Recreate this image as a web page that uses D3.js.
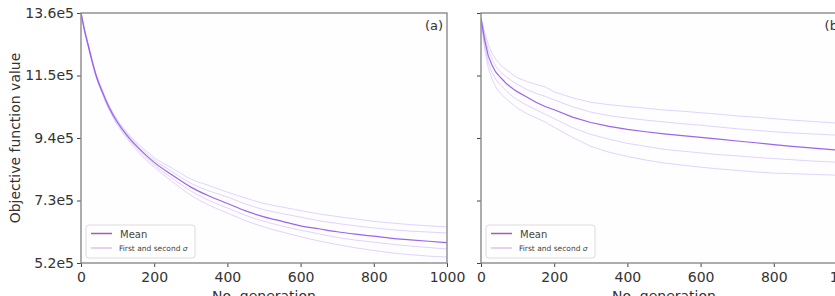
<!DOCTYPE html>
<html>
<head>
<meta charset="utf-8">
<script src="https://cdn.jsdelivr.net/npm/d3@7"></script>
<style>
  body { margin: 0; background: #fff; }
  svg { display: block; font-family: "DejaVu Sans", sans-serif; }
</style>
</head>
<body>
<div id="chart"></div>
<script>
// generations
const gens = [0, 10, 20, 30, 40, 50, 60, 70, 80, 90, 100, 125, 150, 175, 200, 250, 300, 350, 400, 450, 500, 550, 600, 650, 700, 750, 800, 850, 900, 950, 1000];

// panel (a), values in 1e5
const aMean   = [13.6, 13.0, 12.5, 12.0, 11.55, 11.2, 10.9, 10.6, 10.35, 10.12, 9.92, 9.5, 9.15, 8.85, 8.58, 8.15, 7.75, 7.45, 7.2, 6.95, 6.75, 6.6, 6.45, 6.35, 6.25, 6.17, 6.1, 6.03, 5.98, 5.93, 5.88];
const aUp2    = [13.62, 13.05, 12.55, 12.05, 11.6, 11.26, 10.96, 10.67, 10.42, 10.2, 10.0, 9.6, 9.27, 9.0, 8.74, 8.38, 8.02, 7.8, 7.58, 7.38, 7.2, 7.08, 6.96, 6.85, 6.76, 6.68, 6.6, 6.54, 6.49, 6.45, 6.41];
const aUp1    = [13.61, 13.03, 12.53, 12.03, 11.58, 11.23, 10.93, 10.64, 10.39, 10.16, 9.96, 9.55, 9.21, 8.92, 8.66, 8.26, 7.88, 7.62, 7.42, 7.18, 6.99, 6.86, 6.74, 6.62, 6.53, 6.45, 6.38, 6.32, 6.27, 6.24, 6.21];
const aLow1   = [13.59, 12.97, 12.47, 11.97, 11.52, 11.17, 10.87, 10.56, 10.31, 10.08, 9.88, 9.45, 9.09, 8.78, 8.5, 8.04, 7.62, 7.3, 7.05, 6.8, 6.6, 6.44, 6.3, 6.18, 6.06, 5.97, 5.9, 5.83, 5.77, 5.72, 5.67];
const aLow2   = [13.58, 12.95, 12.44, 11.94, 11.49, 11.13, 10.83, 10.52, 10.27, 10.03, 9.83, 9.39, 9.02, 8.7, 8.42, 7.93, 7.48, 7.14, 6.88, 6.62, 6.41, 6.24, 6.08, 5.94, 5.82, 5.71, 5.62, 5.54, 5.48, 5.43, 5.4];

// panel (b)
const bMean   = [13.4, 12.7, 12.15, 11.85, 11.62, 11.48, 11.35, 11.22, 11.12, 11.03, 10.95, 10.78, 10.6, 10.46, 10.35, 10.1, 9.92, 9.79, 9.69, 9.61, 9.54, 9.48, 9.42, 9.36, 9.3, 9.24, 9.18, 9.12, 9.07, 9.02, 8.97];
const bUp2    = [13.45, 12.95, 12.55, 12.25, 12.05, 11.9, 11.78, 11.68, 11.6, 11.5, 11.42, 11.3, 11.2, 11.12, 10.95, 10.75, 10.6, 10.52, 10.46, 10.4, 10.34, 10.3, 10.25, 10.2, 10.14, 10.1, 10.05, 10.0, 9.96, 9.92, 9.88];
const bUp1    = [13.42, 12.82, 12.35, 12.05, 11.82, 11.66, 11.55, 11.44, 11.36, 11.27, 11.2, 11.03, 10.9, 10.8, 10.68, 10.45, 10.27, 10.15, 10.07, 10.0, 9.94, 9.88, 9.83, 9.77, 9.71, 9.66, 9.61, 9.57, 9.54, 9.51, 9.48];
const bLow1   = [13.38, 12.55, 11.95, 11.6, 11.38, 11.22, 11.1, 10.98, 10.86, 10.76, 10.68, 10.5, 10.35, 10.2, 10.05, 9.75, 9.52, 9.36, 9.22, 9.12, 9.02, 8.96, 8.9, 8.84, 8.8, 8.75, 8.71, 8.67, 8.63, 8.6, 8.57];
const bLow2   = [13.35, 12.4, 11.75, 11.38, 11.12, 10.95, 10.82, 10.7, 10.6, 10.5, 10.4, 10.22, 10.08, 9.94, 9.76, 9.42, 9.12, 8.92, 8.78, 8.66, 8.56, 8.49, 8.42, 8.36, 8.31, 8.26, 8.22, 8.2, 8.18, 8.16, 8.14];

const yTicks = [5.2, 7.3, 9.4, 11.5, 13.6];
const xTicks = [0, 200, 400, 600, 800, 1000];

const width = 835, height = 296;
const plotTop = 13, plotBottom = 263;
const meanColor = "#8f55e8";
const sigmaColor = "#a888f2";
const legendMeanColor = "#a855cc";

const svg = d3.select("#chart").append("svg")
    .attr("width", width)
    .attr("height", height);

const y = d3.scaleLinear().domain([5.2, 13.6]).range([plotBottom, plotTop]);

const panels = [
    { id: "a", left: 81, right: 447, mean: aMean, bands: [aUp2, aUp1, aLow1, aLow2], curve: d3.curveMonotoneX },
    { id: "b", left: 481, right: 847, mean: bMean, bands: [bUp2, bUp1, bLow1, bLow2], curve: d3.curveLinear }
];

panels.forEach((p, i) => {
    const x = d3.scaleLinear().domain([0, 1000]).range([p.left, p.right]);

    svg.append("rect")
        .attr("x", p.left).attr("y", plotTop)
        .attr("width", p.right - p.left).attr("height", plotBottom - plotTop)
        .attr("fill", "#fefdff");

    svg.append("clipPath").attr("id", "clip" + p.id)
        .append("rect")
        .attr("x", p.left).attr("y", plotTop)
        .attr("width", p.right - p.left).attr("height", plotBottom - plotTop);

    const line = d3.line()
        .x((d, j) => x(gens[j]))
        .y(d => y(d))
        .curve(p.curve);

    const g = svg.append("g").attr("clip-path", `url(#clip${p.id})`);

    p.bands.forEach(b => {
        g.append("path")
            .attr("d", line(b))
            .attr("fill", "none")
            .attr("stroke", sigmaColor)
            .attr("stroke-opacity", 0.35)
            .attr("stroke-width", 1);
    });

    g.append("path")
        .attr("d", line(p.mean))
        .attr("fill", "none")
        .attr("stroke", meanColor)
        .attr("stroke-opacity", 0.9)
        .attr("stroke-width", 1.2);

    // x axis
    const xAxis = svg.append("g")
        .attr("transform", `translate(0,${plotBottom})`)
        .call(d3.axisBottom(x).tickValues(xTicks).tickSize(4).tickPadding(5).tickSizeOuter(0)
            .tickFormat(d3.format("d")));
    xAxis.select(".domain").remove();
    xAxis.selectAll("line").attr("stroke", "#444");
    xAxis.selectAll("text").attr("fill", "#333").style("font-size", "14px").style("font-family", "DejaVu Sans");

    // y axis
    const yAxis = svg.append("g")
        .attr("transform", `translate(${p.left},0)`)
        .call(d3.axisLeft(y).tickValues(yTicks).tickSize(4).tickPadding(3).tickSizeOuter(0)
            .tickFormat(d => i === 0 ? d3.format(".1f")(d) + "e5" : ""));
    yAxis.select(".domain").remove();
    yAxis.selectAll("line").attr("stroke", "#444");
    yAxis.selectAll("text").attr("fill", "#333").style("font-size", "14px").style("font-family", "DejaVu Sans");

    // frame
    svg.append("rect")
        .attr("x", p.left).attr("y", plotTop)
        .attr("width", p.right - p.left).attr("height", plotBottom - plotTop)
        .attr("fill", "none")
        .attr("stroke", "#8a8a8a")
        .attr("stroke-width", 1.4);

    svg.append("text")
        .attr("x", p.right - 4).attr("y", 30)
        .attr("text-anchor", "end")
        .attr("fill", "#333")
        .style("font-size", "13px")
        .text(`(${p.id})`);

    svg.append("text")
        .attr("x", (p.left + p.right) / 2).attr("y", 301)
        .attr("text-anchor", "middle")
        .attr("fill", "#333")
        .style("font-size", "14px")
        .text("No. generation");

    // legend
    const lg = svg.append("g").attr("transform", `translate(${p.left + 5},225)`);
    lg.append("rect")
        .attr("width", 109).attr("height", 33).attr("rx", 3)
        .attr("fill", "#fff").attr("fill-opacity", 0.85)
        .attr("stroke", "#dcdcdc");
    lg.append("line")
        .attr("x1", 5).attr("x2", 26).attr("y1", 8.5).attr("y2", 8.5)
        .attr("stroke", legendMeanColor).attr("stroke-width", 1.5);
    lg.append("text")
        .attr("x", 34).attr("y", 12.5)
        .attr("fill", "#444")
        .style("font-size", "10px")
        .text("Mean");
    lg.append("line")
        .attr("x1", 5).attr("x2", 26).attr("y1", 23).attr("y2", 23)
        .attr("stroke", legendMeanColor).attr("stroke-opacity", 0.55).attr("stroke-width", 1);
    const st = lg.append("text")
        .attr("x", 33).attr("y", 26)
        .attr("fill", "#444")
        .style("font-size", "7.5px");
    st.append("tspan").text("First and second ");
    st.append("tspan").attr("font-style", "italic").text("σ");
});

svg.append("text")
    .attr("transform", "translate(20,138) rotate(-90)")
    .attr("text-anchor", "middle")
    .attr("fill", "#333")
    .style("font-size", "14px")
    .text("Objective function value");
</script>
</body>
</html>
